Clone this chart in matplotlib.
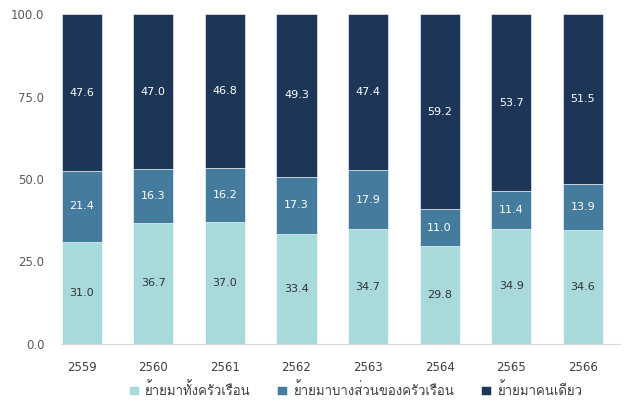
import matplotlib
matplotlib.use("Agg")
import matplotlib.pyplot as plt
from matplotlib import font_manager
from matplotlib.ft2font import FT2Font
import numpy as np

# data (percent)
years = ["2559", "2560", "2561", "2562", "2563", "2564", "2565", "2566"]
whole_household = [31.0, 36.7, 37.0, 33.4, 34.7, 29.8, 34.9, 34.6]
part_household = [21.4, 16.3, 16.2, 17.3, 17.9, 11.0, 11.4, 13.9]
alone = [47.6, 47.0, 46.8, 49.3, 47.4, 59.2, 53.7, 51.5]
series_names = ["ย้ายมาทั้งครัวเรือน", "ย้ายมาบางส่วนของครัวเรือน", "ย้ายมาคนเดียว"]
yticks = [0, 25, 50, 75, 100]

colors = ["#A8DADC", "#457B9D", "#1D3557"]
text_colors = ["#333333", "white", "white"]

# find an installed font that has Thai glyphs
thai_font = None
for f in font_manager.fontManager.ttflist:
    try:
        if 0x0E22 in FT2Font(f.fname).get_charmap():
            thai_font = f.name
            break
    except Exception:
        pass
families = ["DejaVu Sans"]
legend_families = ["DejaVu Sans"]
if thai_font:
    families = ["DejaVu Sans", thai_font]
    legend_families = [thai_font, "DejaVu Sans"]
plt.rcParams["font.family"] = families

fig = plt.figure(figsize=(6.24, 4.08), dpi=100)
ax = fig.add_axes([61 / 624, 64 / 408, 559 / 624, 330 / 408])

x = np.arange(len(years))
bottom = np.zeros(len(years))
for vals, name, c, tc in zip([whole_household, part_household, alone], series_names, colors, text_colors):
    vals = np.array(vals)
    ax.bar(x, vals, 0.56, bottom=bottom, color=c, label=name,
           edgecolor="white", linewidth=0.4)
    for xi, b, v in zip(x, bottom, vals):
        ax.text(xi, b + v / 2, f"{v:.1f}", ha="center", va="center", color=tc, fontsize=8)
    bottom += vals

ax.set_ylim(0, 100)
ax.set_xlim(-0.29, 7.52)
ax.set_xticks(x)
ax.set_xticklabels(years, color="#404040", fontsize=8.5)
ax.set_yticks(yticks)
ax.set_yticklabels([f"{t:.1f}" for t in yticks], color="#595959", fontsize=8.5)
ax.tick_params(length=0, pad=12)
ax.tick_params(axis="y", pad=12)
for s in ["top", "right", "left"]:
    ax.spines[s].set_visible(False)
ax.spines["bottom"].set_color("#D9D9D9")

fig.legend(loc="lower center", bbox_to_anchor=(0.57, -0.005), ncol=3, frameon=False,
           prop={"family": legend_families, "size": 9.5},
           handlelength=0.75, handleheight=0.75, columnspacing=2.0,
           handletextpad=0.5, labelcolor="#404040")

fig.savefig("out.png", dpi=100)
